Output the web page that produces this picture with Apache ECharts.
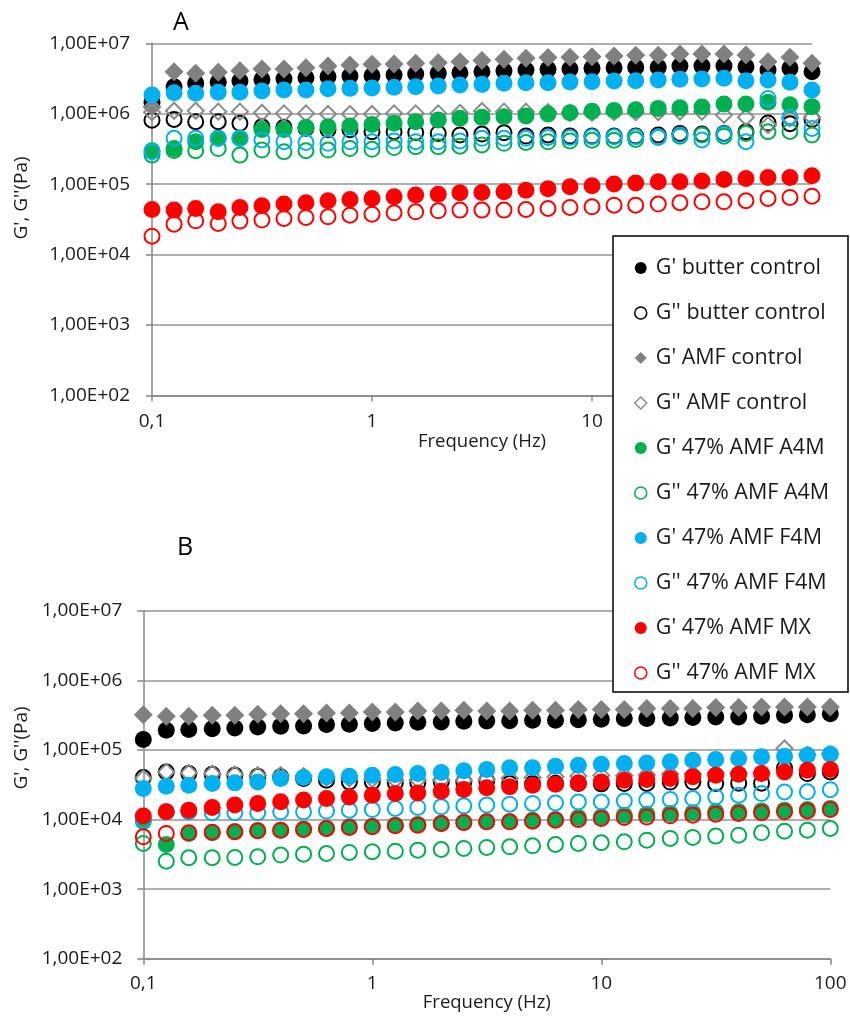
<!DOCTYPE html>
<html>
<head>
<meta charset="utf-8">
<title>G', G'' frequency sweeps</title>
<script src="https://cdn.jsdelivr.net/npm/echarts@6/dist/echarts.min.js"></script>
<style>
  html, body { margin: 0; padding: 0; background: #fff; }
  #chart { width: 850px; height: 1020px; }
</style>
</head>
<body>
<div id="chart"></div>
<script>
// Frequency sweep points (Hz), 10 per decade
const freqHz = [0.1, 0.126, 0.158, 0.2, 0.251, 0.316, 0.398, 0.501, 0.631, 0.794,
  1, 1.26, 1.58, 2, 2.51, 3.16, 3.98, 5.01, 6.31, 7.94,
  10, 12.6, 15.8, 20, 25.1, 31.6, 39.8, 50.1, 63.1, 79.4, 100];

const seriesNames = ["G' butter control", "G'' butter control", "G' AMF control", "G'' AMF control",
  "G' 47% AMF A4M", "G'' 47% AMF A4M", "G' 47% AMF F4M", "G'' 47% AMF F4M",
  "G' 47% AMF MX", "G'' 47% AMF MX"];

const xTickLabels = ['0,1', '1', '10', '100'];
const yTickLabels = ['1,00E+02', '1,00E+03', '1,00E+04', '1,00E+05', '1,00E+06', '1,00E+07'];

// Panel A (Pa)
const aGpButter = [1.45e6, 2.42e6, 2.7e6, 2.79e6, 2.91e6, 3.07e6, 3.1e6, 3.25e6, 3.36e6, 3.43e6, 3.47e6, 3.55e6, 3.66e6, 3.74e6, 3.83e6, 3.95e6, 4.04e6, 4.18e6, 4.27e6, 4.32e6, 4.41e6, 4.51e6, 4.56e6, 4.56e6, 4.76e6, 4.76e6, 4.76e6, 4.66e6, 4.18e6, 4.41e6, 3.95e6];
const aGppButter = [8.1e5, 8.3e5, 7.7e5, 7.7e5, 7.3e5, 6.5e5, 6.4e5, 6.2e5, 5.9e5, 5.9e5, 5.55e5, 5.55e5, 5.4e5, 5.25e5, 5.0e5, 5.14e5, 5.37e5, 4.81e5, 4.98e5, 4.81e5, 4.81e5, 4.81e5, 4.81e5, 4.98e5, 5.25e5, 5.14e5, 5.25e5, 5.55e5, 7.4e5, 7.2e5, 8.3e5];
const aGpAMF = [1.25e6, 3.95e6, 3.74e6, 3.87e6, 4.09e6, 4.32e6, 4.32e6, 4.51e6, 4.76e6, 4.92e6, 5.03e6, 5.08e6, 5.2e6, 5.31e6, 5.48e6, 5.68e6, 5.93e6, 6.12e6, 6.26e6, 6.32e6, 6.46e6, 6.6e6, 6.75e6, 6.75e6, 7.05e6, 7.05e6, 7.05e6, 6.82e6, 5.49e6, 6.32e6, 5.2e6];
const aGppAMF = [1.05e6, 1.1e6, 1.1e6, 1.07e6, 1.07e6, 1.03e6, 1.01e6, 1.01e6, 9.9e5, 9.9e5, 9.9e5, 1.01e6, 1.01e6, 1.01e6, 1.03e6, 1.09e6, 1.07e6, 1.07e6, 1.05e6, 1.03e6, 1.03e6, 1.05e6, 1.05e6, 1.05e6, 1.07e6, 1.07e6, 9.6e5, 8.9e5, 6.9e5, 8.6e5, 8.9e5];
const aGpA4M = [2.98e5, 3.21e5, 4.0e5, 4.47e5, 4.47e5, 5.98e5, 5.98e5, 6.4e5, 6.54e5, 6.68e5, 7.05e5, 7.3e5, 7.7e5, 8.13e5, 8.6e5, 8.87e5, 9.05e5, 9.27e5, 9.89e5, 1.03e6, 1.08e6, 1.11e6, 1.14e6, 1.19e6, 1.21e6, 1.24e6, 1.37e6, 1.37e6, 1.45e6, 1.34e6, 1.26e6];
const aGppA4M = [2.58e5, 3.0e5, 2.98e5, 3.2e5, 2.58e5, 3.04e5, 2.88e5, 2.98e5, 3.04e5, 3.2e5, 3.12e5, 3.3e5, 3.39e5, 3.39e5, 3.45e5, 3.6e5, 3.8e5, 3.9e5, 3.99e5, 4.1e5, 4.2e5, 4.2e5, 4.3e5, 4.6e5, 4.8e5, 5.0e5, 4.8e5, 5.25e5, 5.55e5, 5.6e5, 5.0e5];
const aGpF4M = [1.84e6, 1.99e6, 1.95e6, 2.01e6, 2.01e6, 2.1e6, 2.17e6, 2.17e6, 2.26e6, 2.29e6, 2.32e6, 2.37e6, 2.42e6, 2.47e6, 2.56e6, 2.61e6, 2.7e6, 2.76e6, 2.76e6, 2.82e6, 2.85e6, 2.91e6, 2.94e6, 3.01e6, 3.08e6, 3.11e6, 3.18e6, 2.94e6, 3.01e6, 2.79e6, 2.17e6];
const aGppF4M = [2.88e5, 4.47e5, 4.47e5, 4.47e5, 4.47e5, 4.23e5, 4.0e5, 3.9e5, 3.79e5, 4.0e5, 4.0e5, 4.1e5, 4.0e5, 4.0e5, 4.1e5, 4.47e5, 4.47e5, 4.47e5, 4.6e5, 4.6e5, 4.7e5, 4.7e5, 4.7e5, 4.7e5, 4.98e5, 4.23e5, 5.14e5, 4.0e5, 1.65e6, 8.87e5, 6.18e5];
const aGpMX = [4.37e4, 4.27e4, 4.51e4, 4.05e4, 4.66e4, 4.92e4, 5.2e4, 5.43e4, 5.8e4, 6.06e4, 6.26e4, 6.6e4, 6.98e4, 7.2e4, 7.53e4, 7.6e4, 7.78e4, 8.2e4, 8.6e4, 9.2e4, 9.47e4, 1.0e5, 1.04e5, 1.08e5, 1.08e5, 1.11e5, 1.16e5, 1.2e5, 1.24e5, 1.24e5, 1.31e5];
const aGppMX = [1.82e4, 2.7e4, 3.01e4, 2.76e4, 2.98e4, 3.08e4, 3.25e4, 3.36e4, 3.43e4, 3.62e4, 3.74e4, 3.91e4, 4.04e4, 4.17e4, 4.27e4, 4.27e4, 4.27e4, 4.36e4, 4.5e4, 4.66e4, 4.76e4, 5.02e4, 5.02e4, 5.2e4, 5.43e4, 5.6e4, 5.6e4, 5.8e4, 6.26e4, 6.46e4, 6.74e4];

// Panel B (Pa)
const bGpButter = [1.41e5, 1.91e5, 1.96e5, 2.02e5, 2.07e5, 2.14e5, 2.19e5, 2.21e5, 2.31e5, 2.34e5, 2.39e5, 2.44e5, 2.5e5, 2.52e5, 2.58e5, 2.6e5, 2.63e5, 2.67e5, 2.67e5, 2.72e5, 2.75e5, 2.82e5, 2.82e5, 2.88e5, 2.91e5, 2.98e5, 2.98e5, 3.04e5, 3.15e5, 3.2e5, 3.3e5];
const bGppButter = [4.01e4, 4.83e4, 4.57e4, 4.48e4, 4.33e4, 4.19e4, 4.1e4, 3.88e4, 3.67e4, 3.47e4, 3.47e4, 3.36e4, 3.36e4, 3.47e4, 3.47e4, 3.6e4, 3.3e4, 3.3e4, 3.33e4, 3.29e4, 3.25e4, 3.29e4, 3.29e4, 3.45e4, 3.45e4, 3.29e4, 3.33e4, 3.33e4, 5.5e4, 4.57e4, 4.83e4];
const bGpAMF = [3.21e5, 3.04e5, 3.04e5, 3.15e5, 3.15e5, 3.25e5, 3.32e5, 3.32e5, 3.4e5, 3.4e5, 3.51e5, 3.51e5, 3.63e5, 3.63e5, 3.71e5, 3.63e5, 3.63e5, 3.71e5, 3.71e5, 3.8e5, 3.8e5, 3.8e5, 3.92e5, 3.92e5, 3.92e5, 4.05e5, 4.05e5, 4.14e5, 4.14e5, 4.14e5, 4.14e5];
const bGppAMF = [3.9e4, 4.83e4, 4.68e4, 4.57e4, 4.45e4, 4.33e4, 4.33e4, 4.2e4, 4.01e4, 3.9e4, 3.8e4, 3.7e4, 3.7e4, 3.7e4, 3.67e4, 3.8e4, 3.9e4, 4.0e4, 4.1e4, 4.2e4, 4.3e4, 4.3e4, 4.4e4, 4.5e4, 4.5e4, 4.6e4, 4.6e4, 4.7e4, 1.05e5, 8.5e4, 8.7e4];
const bGpA4M = [9.46e3, 4.37e3, 6.3e3, 6.44e3, 6.65e3, 6.88e3, 7.03e3, 7.26e3, 7.43e3, 7.85e3, 8.02e3, 8.3e3, 8.48e3, 8.76e3, 9.06e3, 9.26e3, 9.26e3, 9.78e3, 1.0e4, 1.07e4, 1.09e4, 1.15e4, 1.19e4, 1.22e4, 1.25e4, 1.29e4, 1.29e4, 1.33e4, 1.36e4, 1.39e4, 1.44e4];
const bGppA4M = [4.53e3, 2.52e3, 2.82e3, 2.82e3, 2.85e3, 2.91e3, 3.08e3, 3.18e3, 3.25e3, 3.36e3, 3.44e3, 3.51e3, 3.63e3, 3.71e3, 3.84e3, 3.97e3, 4.05e3, 4.19e3, 4.37e3, 4.53e3, 4.63e3, 4.78e3, 5.05e3, 5.34e3, 5.52e3, 5.77e3, 5.96e3, 6.44e3, 6.8e3, 7.03e3, 7.43e3];
const bGpF4M = [2.79e4, 3.0e4, 3.11e4, 3.29e4, 3.36e4, 3.47e4, 3.88e4, 4.01e4, 4.1e4, 4.19e4, 4.33e4, 4.43e4, 4.57e4, 4.73e4, 5.0e4, 5.23e4, 5.52e4, 5.52e4, 5.84e4, 6.03e4, 6.23e4, 6.37e4, 6.5e4, 6.73e4, 7.1e4, 7.27e4, 7.51e4, 7.94e4, 8.11e4, 8.38e4, 8.66e4];
const bGppF4M = [9.8e3, 1.29e4, 1.29e4, 1.25e4, 1.25e4, 1.25e4, 1.29e4, 1.29e4, 1.32e4, 1.36e4, 1.39e4, 1.44e4, 1.49e4, 1.52e4, 1.57e4, 1.61e4, 1.66e4, 1.7e4, 1.73e4, 1.79e4, 1.79e4, 1.85e4, 1.9e4, 1.94e4, 2.0e4, 2.11e4, 2.23e4, 2.36e4, 2.49e4, 2.5e4, 2.68e4];
const bGpMX = [1.12e4, 1.29e4, 1.36e4, 1.49e4, 1.61e4, 1.7e4, 1.8e4, 1.9e4, 2.0e4, 2.11e4, 2.23e4, 2.36e4, 2.41e4, 2.55e4, 2.7e4, 2.85e4, 2.95e4, 3.11e4, 3.22e4, 3.36e4, 3.47e4, 3.67e4, 3.75e4, 3.88e4, 4.1e4, 4.33e4, 4.48e4, 4.57e4, 4.83e4, 5.1e4, 5.23e4];
const bGppMX = [5.64e3, 6.3e3, 6.44e3, 6.58e3, 6.65e3, 6.88e3, 7.03e3, 7.18e3, 7.43e3, 7.67e3, 7.85e3, 8.11e3, 8.3e3, 8.76e3, 9.06e3, 9.26e3, 9.26e3, 9.46e3, 9.78e3, 1.0e4, 1.03e4, 1.07e4, 1.09e4, 1.13e4, 1.15e4, 1.19e4, 1.22e4, 1.25e4, 1.29e4, 1.33e4, 1.39e4];

const panelAValues = [aGpButter, aGppButter, aGpAMF, aGppAMF, aGpA4M, aGppA4M, aGpF4M, aGppF4M, aGpMX, aGppMX];
const panelBValues = [bGpButter, bGppButter, bGpAMF, bGppAMF, bGpA4M, bGppA4M, bGpF4M, bGppF4M, bGpMX, bGppMX];

// Marker styles, one per series (filled G', open G'')
const FONT = 'Open Sans';
const markerStyles = [
  { symbol: 'circle', size: 17, fill: '#000000', stroke: null },
  { symbol: 'circle', size: 15, fill: 'transparent', stroke: '#000000' },
  { symbol: 'diamond', size: 19, fill: '#808080', stroke: null },
  { symbol: 'diamond', size: 16, fill: 'transparent', stroke: '#8a8a8a' },
  { symbol: 'circle', size: 17, fill: '#00b050', stroke: null },
  { symbol: 'circle', size: 15, fill: 'transparent', stroke: '#00b050' },
  { symbol: 'circle', size: 17, fill: '#00b0f0', stroke: null },
  { symbol: 'circle', size: 15, fill: 'transparent', stroke: '#00b0f0' },
  { symbol: 'circle', size: 17, fill: '#ff0000', stroke: null },
  { symbol: 'circle', size: 15, fill: 'transparent', stroke: '#ff0000' }
];

function itemStyleOf(m, legend) {
  if (m.stroke) {
    return { color: legend ? '#ffffff' : 'transparent', borderColor: m.stroke, borderWidth: legend ? 1.5 : 2, opacity: 1 };
  }
  return { color: m.fill, borderWidth: 0, opacity: 1 };
}

function buildSeries(values, axisIndex) {
  return values.map((vals, k) => {
    const m = markerStyles[k];
    return {
      name: seriesNames[k],
      type: 'scatter',
      xAxisIndex: axisIndex,
      yAxisIndex: axisIndex,
      symbol: m.symbol,
      symbolSize: m.size,
      itemStyle: itemStyleOf(m, false),
      emphasis: { disabled: true },
      z: 2 + k * 0.01,
      data: freqHz.map((f, i) => [f, vals[i]])
    };
  });
}

const axisGrey = '#868686';
const gridGrey = '#959595';
const textColor = '#1a1a1a';

function xAxisOf(idx, labelMargin, nameGap) {
  return {
    type: 'log', logBase: 10, min: 0.1, max: 100, gridIndex: idx,
    name: 'Frequency (Hz)', nameLocation: 'middle', nameGap: nameGap,
    nameTextStyle: { fontFamily: FONT, fontSize: 18.5, color: textColor },
    axisLine: { show: true, onZero: false, lineStyle: { color: axisGrey, width: 1.5 } },
    axisTick: { show: true, length: 6, lineStyle: { color: axisGrey, width: 1.5 } },
    minorTick: { show: false },
    splitLine: { show: false },
    axisLabel: {
      fontFamily: FONT, fontSize: 19, color: textColor, margin: labelMargin,
      formatter: v => xTickLabels[Math.round(Math.log10(v)) + 1]
    }
  };
}

function yAxisOf(idx, labelMargin) {
  return {
    type: 'log', logBase: 10, min: 100, max: 1e7, gridIndex: idx,
    axisLine: { show: true, lineStyle: { color: axisGrey, width: 1.5 } },
    axisTick: { show: true, length: 6, lineStyle: { color: axisGrey, width: 1.5 } },
    minorTick: { show: false },
    splitLine: { show: true, lineStyle: { color: gridGrey, width: 1.5 } },
    axisLabel: {
      fontFamily: FONT, fontSize: 19, color: textColor, margin: labelMargin,
      formatter: v => yTickLabels[Math.round(Math.log10(v)) - 2]
    }
  };
}

const chart = echarts.init(document.getElementById('chart'), null, { renderer: 'canvas' });

const option = {
  backgroundColor: '#ffffff',
  animation: false,
  grid: [
    { left: 152, top: 43.3, width: 660, height: 352 },
    { left: 143.3, top: 610.7, width: 687, height: 348 }
  ],
  xAxis: [xAxisOf(0, 17, 31), xAxisOf(1, 15, 33)],
  yAxis: [yAxisOf(0, 22), yAxisOf(1, 21)],
  legend: {
    orient: 'vertical',
    left: 634, top: 256,
    padding: 0,
    itemGap: 21,
    itemWidth: 12, itemHeight: 12,
    z: 10,
    selectedMode: false,
    textStyle: { fontFamily: FONT, fontSize: 21.5, color: textColor, lineHeight: 24, padding: [0, 0, 0, 4] },
    data: seriesNames.map((n, k) => ({
      name: n,
      icon: markerStyles[k].symbol,
      itemStyle: itemStyleOf(markerStyles[k], true)
    }))
  },
  graphic: [
    { type: 'rect', z: 8, shape: { x: 613, y: 236, width: 235, height: 456 },
      style: { fill: '#ffffff', stroke: '#000000', lineWidth: 1.5 } },
    { type: 'text', z: 8, x: 181, y: 23,
      style: { text: 'A', fontFamily: FONT, fontSize: 25, fill: '#000', align: 'center', verticalAlign: 'middle' } },
    { type: 'text', z: 8, x: 185, y: 548,
      style: { text: 'B', fontFamily: FONT, fontSize: 25, fill: '#000', align: 'center', verticalAlign: 'middle' } },
    { type: 'text', z: 8, x: 22, y: 198, rotation: Math.PI / 2,
      style: { text: "G', G''(Pa)", fontFamily: FONT, fontSize: 19, fill: textColor, align: 'center', verticalAlign: 'middle' } },
    { type: 'text', z: 8, x: 22, y: 748, rotation: Math.PI / 2,
      style: { text: "G', G''(Pa)", fontFamily: FONT, fontSize: 19, fill: textColor, align: 'center', verticalAlign: 'middle' } }
  ],
  series: buildSeries(panelAValues, 0).concat(buildSeries(panelBValues, 1))
};

chart.setOption(option);
</script>
</body>
</html>
